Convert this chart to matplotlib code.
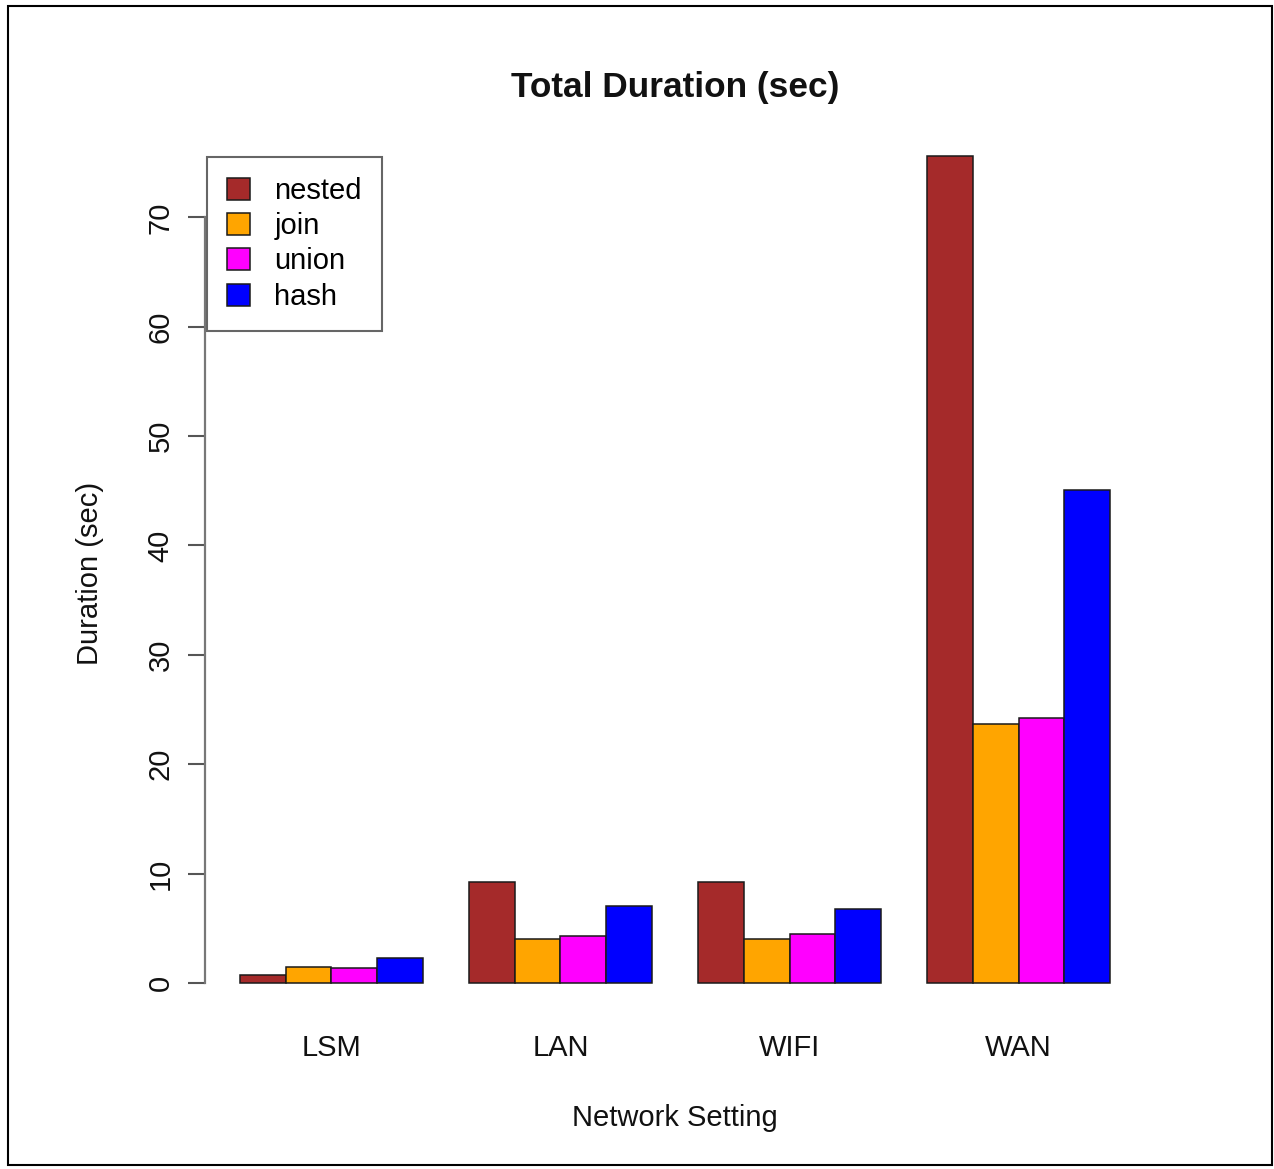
import matplotlib
matplotlib.use('Agg')
import matplotlib.pyplot as plt
from matplotlib.patches import Rectangle
import numpy as np

categories = ['LSM', 'LAN', 'WIFI', 'WAN']
series_names = ['nested', 'join', 'union', 'hash']
nested = [0.7, 9.2, 9.2, 75.6]
join = [1.5, 4.0, 4.0, 23.7]
union = [1.4, 4.3, 4.5, 24.2]
hash_ = [2.3, 7.0, 6.8, 45.1]
colors = ['#A52A2A', '#FFA500', '#FF00FF', '#0000FF']
yticks = [0, 10, 20, 30, 40, 50, 60, 70]

plt.rcParams['font.family'] = ['Liberation Sans', 'DejaVu Sans']

W, H = 1274, 1169
fig = plt.figure(figsize=(W / 100, H / 100), dpi=100)


def px(x0, y0, x1, y1):
    return [x0 / W, 1 - y1 / H, (x1 - x0) / W, (y1 - y0) / H]


ax = fig.add_axes(px(205, 123, 1145, 1016))

data = [nested, join, union, hash_]
ymax = max(max(s) for s in data)
for j, (name, vals, c) in enumerate(zip(series_names, data, colors)):
    lefts = [1 + 5 * k + j for k in range(len(categories))]
    ax.bar(lefts, vals, width=1.0, align='edge', color=c, edgecolor='#1a1a1a',
           linewidth=1.1, label=name)

ax.set_xlim(0.24, 20.76)
ax.set_ylim(-0.04 * ymax, 1.04 * ymax)

for s in ['top', 'right', 'bottom']:
    ax.spines[s].set_visible(False)
ax.spines['left'].set_bounds(0, 70)
ax.spines['left'].set_color('#777777')
ax.spines['left'].set_linewidth(1.6)
ax.spines['left'].set_position(('data', 0.24))

ax.set_yticks(yticks)
ax.set_yticklabels([str(t) for t in yticks], rotation=90, va='center', ha='right',
                   fontsize=21, color='#111111')
ax.tick_params(axis='y', length=12, width=1.5, color='#555555', pad=10)

ax.set_xticks([3 + 5 * k for k in range(len(categories))])
ax.set_xticklabels(categories, fontsize=21, color='#111111')
ax.tick_params(axis='x', length=0, pad=13)

fig.text(675 / W, 1 - 97 / H, 'Total Duration (sec)', ha='center', va='baseline',
         fontsize=25.4, fontweight='bold', color='#111111')
fig.text(675 / W, 1 - 1126 / H, 'Network Setting', ha='center', va='baseline',
         fontsize=21, color='#111111')
fig.text(98 / W, 1 - 573 / H, 'Duration (sec)', ha='center', va='baseline',
         rotation=90, rotation_mode='anchor', fontsize=21, color='#111111')

leg = ax.legend(loc='upper left', bbox_to_anchor=(207 / W, 1 - 157 / H),
                bbox_transform=fig.transFigure, borderaxespad=0,
                fontsize=21, frameon=True, fancybox=False, framealpha=1,
                edgecolor='#666666', handlelength=0.78, handleheight=0.78,
                handletextpad=0.85, labelspacing=0.25, borderpad=0.68)
leg.get_frame().set_linewidth(1.5)

fig.patches.append(Rectangle((8 / W, 1 - 1165 / H), (1272 - 8) / W, (1165 - 6) / H,
                             transform=fig.transFigure, fill=False,
                             edgecolor='black', linewidth=1.5))

fig.savefig('out.png', dpi=100)
